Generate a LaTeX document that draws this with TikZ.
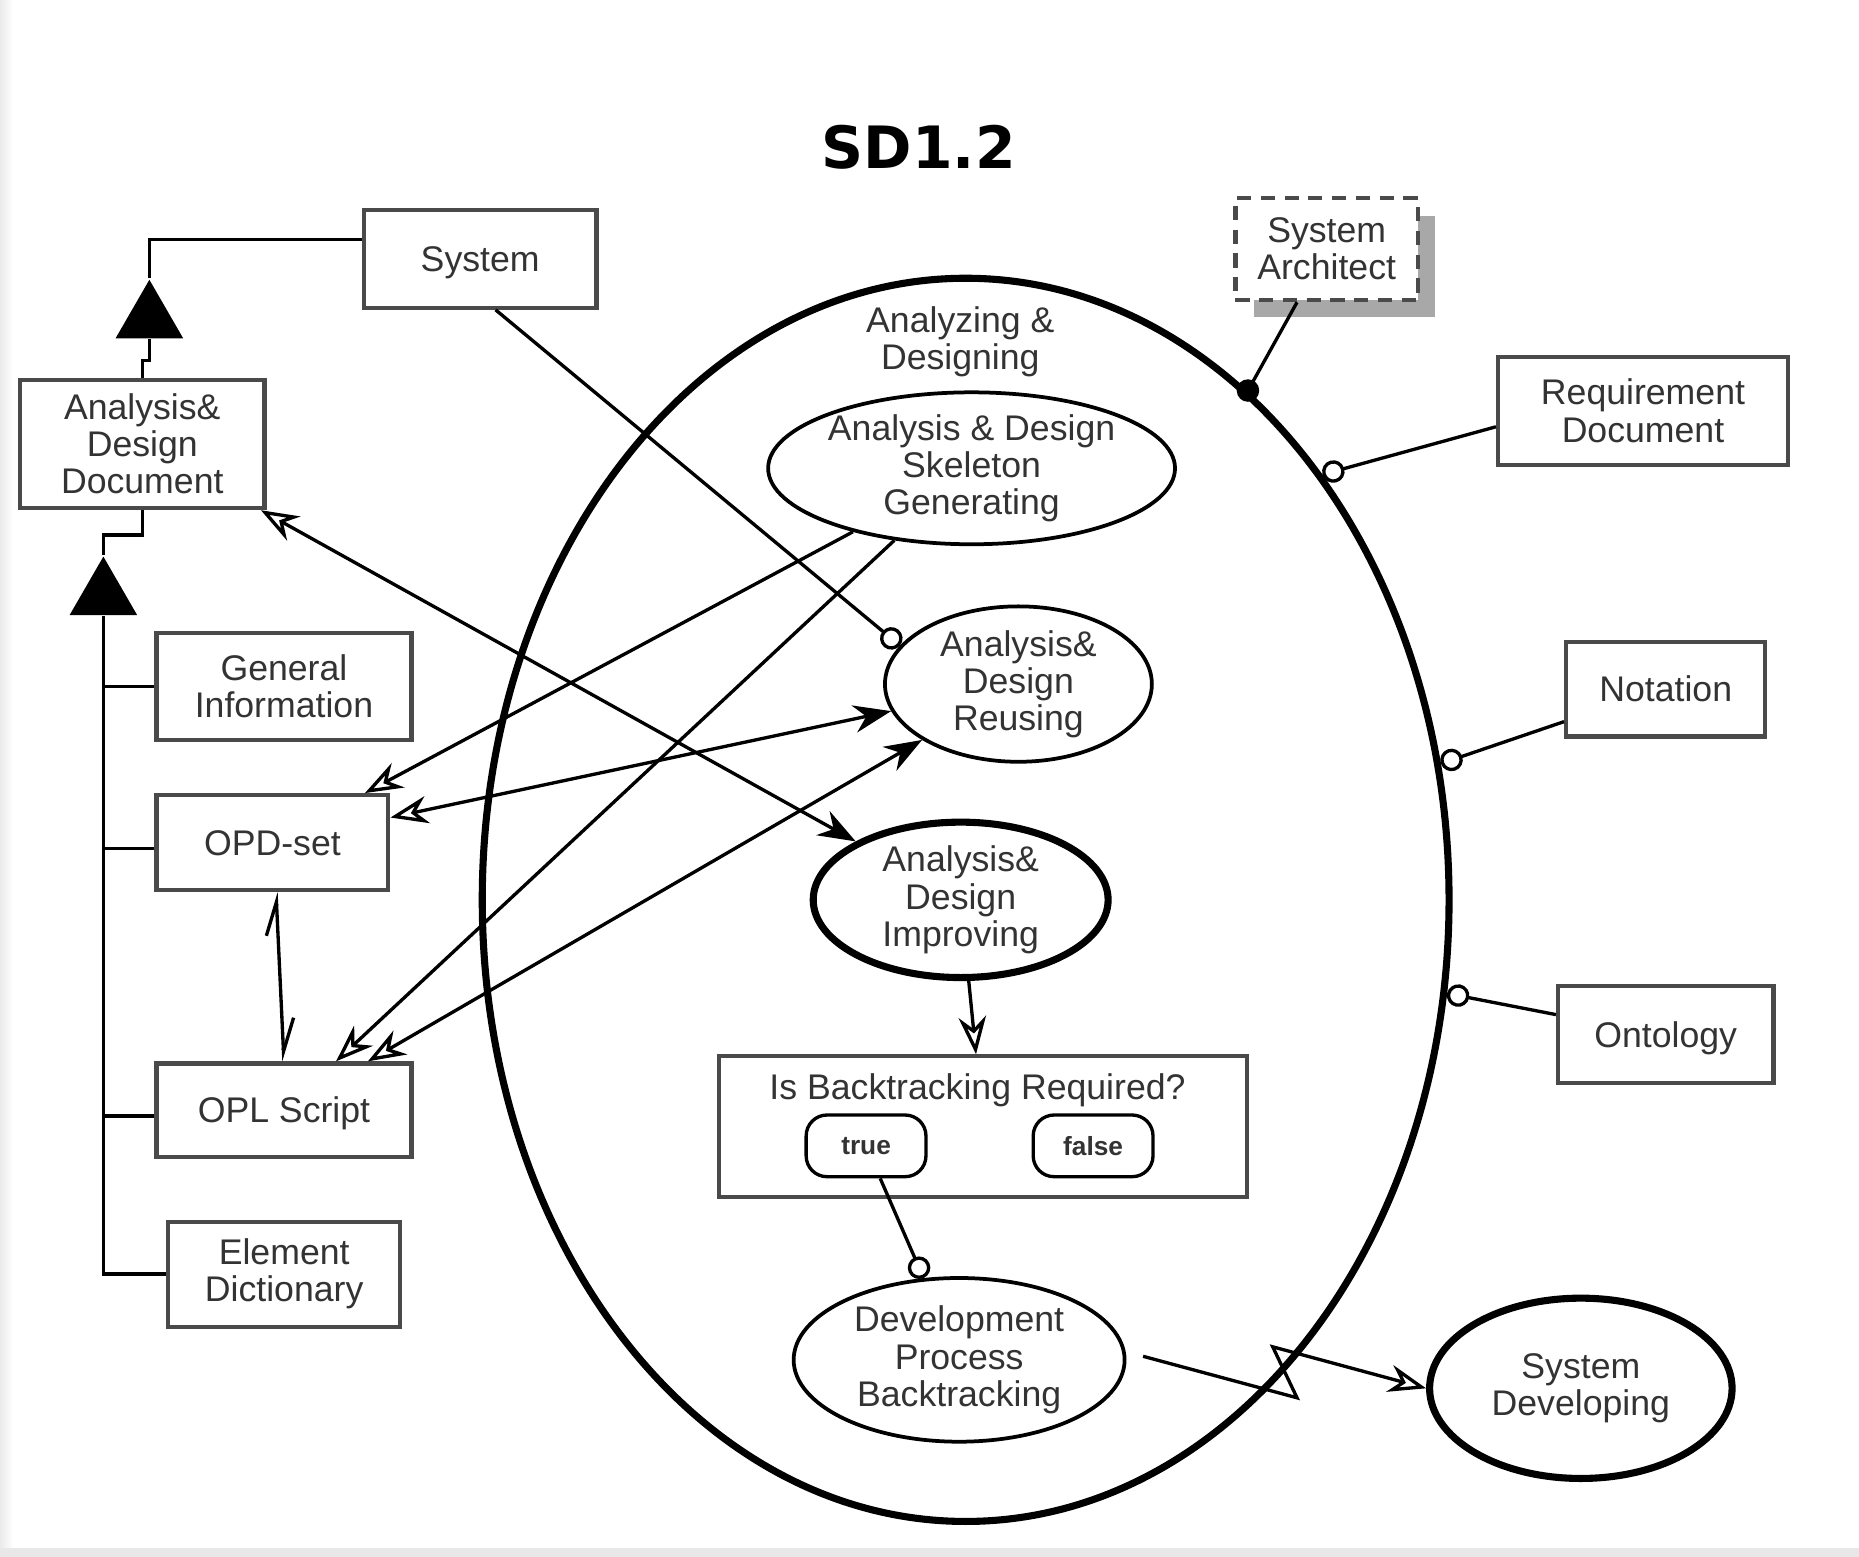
\documentclass[tikz,border=0pt]{standalone}
\usepackage{fontspec}
\setmainfont{Liberation Sans}
\newfontfamily\headfont{DejaVu Sans}
\usetikzlibrary{arrows.meta,calc,shapes.geometric}
\definecolor{labeltext}{HTML}{333333}
\definecolor{boxline}{HTML}{4A4A4A}
\definecolor{shadowgray}{HTML}{A8A8A8}
\tikzset{
  openhead/.tip={Stealth[open,length=9pt,width=6.6pt]},
  fullhead/.tip={Stealth[length=9pt,width=6.6pt]},
  ring/.tip={Circle[open,length=5.4pt]},
  halfbarb/.tip={Straight Barb[harpoon,length=8pt,width=5.6pt]},
}
\begin{document}
\begin{tikzpicture}[x=0.01cm,y=-0.01cm,
  txt/.style={font=\fontsize{8.55}{8.9}\selectfont,text=labeltext,align=center,inner sep=0pt},
  oneline/.style={text height=1.55ex,text depth=0.42ex},
  objbox/.style={txt,draw=boxline,line width=1pt,fill=white},
  proc/.style={txt,ellipse,draw=black,line width=0.9pt},
  mainproc/.style={proc,line width=1.7pt},
  choice/.style={font=\fontsize{6.3}{7}\selectfont\bfseries,text=labeltext,draw=black,
    line width=0.8pt,rounded corners=5pt,inner sep=0pt,minimum width=1.01cm,minimum height=0.52cm},
  gentri/.style={regular polygon,regular polygon sides=3,fill=black,draw=none,
    inner sep=0pt,minimum size=0.658cm},
  link/.style={line width=0.8pt,black},
  agentdot/.style={circle,fill=black,inner sep=0pt,minimum size=0.19cm},
]
\useasboundingbox (0,0) rectangle (1568,1313);
\fill[white] (0,0) rectangle (1568,1313);
\shade[left color=black!8,right color=white] (0,0) rectangle (11,1306);
\fill[black!9] (0,1306) rectangle (1568,1313);

% title
\node[font=\headfont\bfseries\fontsize{14}{16}\selectfont] (title) at (775,124) {SD1.2};

% the in-zoomed process and its contents
\node[ellipse,draw=black,line width=1.7pt,minimum width=8.15cm,minimum height=10.48cm,inner sep=0pt] (ad) at (814.5,759) {};
\node[txt] (adlbl) at (810,288) {Analyzing \&\\Designing};
\node[proc,minimum width=3.43cm,minimum height=1.28cm] (skel) at (819.5,395) {Analysis \& Design\\Skeleton\\Generating};
\node[proc,minimum width=2.25cm,minimum height=1.31cm] (reuse) at (859,577) {Analysis\&\\Design\\Reusing};
\node[mainproc,minimum width=2.486cm,minimum height=1.31cm] (impr) at (810.3,759) {Analysis\&\\Design\\Improving};
\node[objbox,minimum width=4.453cm,minimum height=1.184cm] (bt) at (829.3,950.2) {};
\node[txt,oneline] (btq) at (824.5,917) {Is Backtracking Required?};
\node[choice] (true) at (730.5,966.5) {true};
\node[choice] (false) at (922,966.5) {false};
\node[proc,minimum width=2.79cm,minimum height=1.38cm] (dpb) at (809,1147) {Development\\Process\\Backtracking};
\node[mainproc,minimum width=2.55cm,minimum height=1.52cm] (sysdev) at (1333.4,1171) {System\\Developing};

% objects
\node[objbox,oneline,minimum width=1.96cm,minimum height=0.825cm] (sys) at (405,218.3) {System};
\fill[shadowgray] (1058,182) rectangle (1210,267);
\node[objbox,dashed,dash pattern=on 3.4pt off 2.3pt,line width=1.1pt,minimum width=1.54cm,minimum height=0.86cm] (sa) at (1119,210) {System\\Architect};
\node[objbox,minimum width=2.06cm,minimum height=1.08cm] (add) at (120,374.6) {Analysis\&\\Design\\Document};
\node[objbox,minimum width=2.15cm,minimum height=0.90cm] (gi) at (239.5,579) {General\\Information};
\node[objbox,oneline,minimum width=1.955cm,minimum height=0.80cm] (opd) at (229.8,710.7) {OPD-set};
\node[objbox,oneline,minimum width=2.15cm,minimum height=0.786cm] (opl) at (239.5,936.3) {OPL Script};
\node[objbox,minimum width=1.954cm,minimum height=0.886cm] (ed) at (239.7,1074.7) {Element\\Dictionary};
\node[objbox,minimum width=2.444cm,minimum height=0.91cm] (req) at (1385.8,346.5) {Requirement\\Document};
\node[objbox,oneline,minimum width=1.68cm,minimum height=0.80cm] (note) at (1405,581.2) {Notation};
\node[objbox,oneline,minimum width=1.816cm,minimum height=0.817cm] (onto) at (1405,872.8) {Ontology};

% aggregation of the design document
\node[gentri] (gen1) at (126,268.9) {};
\node[gentri] (gen2) at (87.2,502.4) {};
\draw[link] ($(sys.west)+(0,-16)$) -| (gen1.corner 1);
\draw[link] (gen1.side 2) -- ++(0,18) -| (add.north);
\draw[link] (add.south) -- ++(0,21) -| (gen2.corner 1);
\coordinate (trunk) at (gen2.side 2);
\draw[link] (trunk) |- (ed.west);
\coordinate (gitap) at (gi.west);
\coordinate (opdtap) at ($(opd.west)+(0,5)$);
\coordinate (opltap) at ($(opl.west)+(0,5)$);
\draw[link] (gitap) -- (gitap -| trunk);
\draw[link] (opdtap) -- (opdtap -| trunk);
\draw[link] (opltap) -- (opltap -| trunk);

% procedural links
\draw[link,openhead-fullhead] (add) -- (impr);
\draw[link,-openhead] (skel) -- (opd);
\draw[link,-openhead] (skel) -- (opl);
\draw[link,openhead-fullhead] (opd) -- (reuse);
\draw[link,openhead-fullhead] (opl) -- (reuse);
\draw[link,-ring] ($(sys.south)+(13,0)$) -- (reuse.162);
\draw[link,halfbarb-halfbarb] ($(opd.south)+(3,0)$) -- (opl.north);
\draw[link,-openhead] (impr) -- (bt);
\draw[link,-ring] (true) -- (dpb);
\coordinate (bolt1) at (1094,1179);
\coordinate (bolt2) at (1073.5,1136);
\draw[link,-openhead] ($(dpb.east)+(14,-3)$) -- (bolt1) -- (bolt2) -- (sysdev.west);

% agent and instruments of the main process
\draw[link] ($(sa.south)+(-25,0)$) -- (ad.61);
\node[agentdot] (sadot) at (ad.61) {};
\draw[link,-ring] ($(req.west)+(0,13.5)$) -- (ad.50);
\draw[link,-ring] ($(note.west)+(0,27.5)$) -- (ad.16);
\draw[link,-ring] ($(onto.west)+(0,-17)$) -- (ad.349.5);
\end{tikzpicture}
\end{document}
